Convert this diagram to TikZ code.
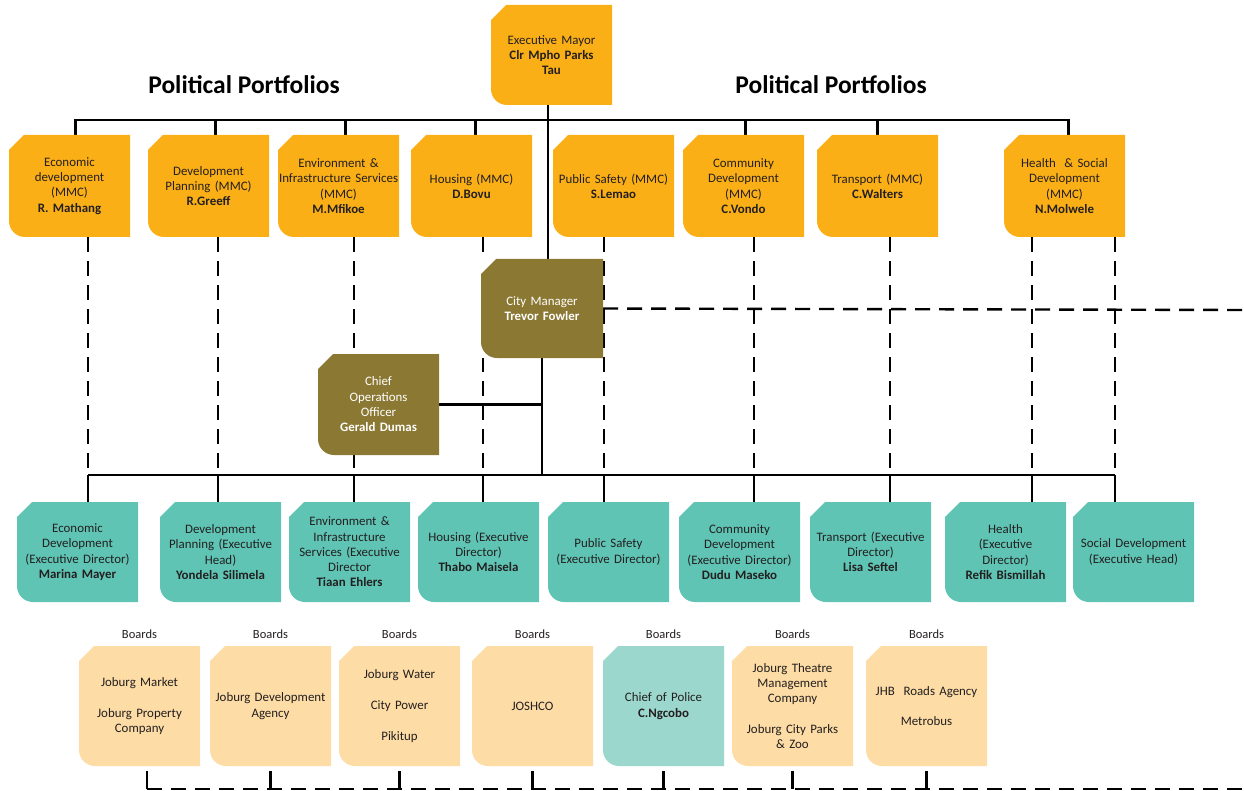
\documentclass[tikz,border=0pt]{standalone}
\usepackage{fontspec}
\setmainfont{Carlito}
\usetikzlibrary{backgrounds}

\definecolor{mayorange}{HTML}{FBAF17}
\definecolor{cmolive}{HTML}{8B7833}
\definecolor{edteal}{HTML}{5FC4B4}
\definecolor{boardpeach}{HTML}{FDDCA5}
\definecolor{policeteal}{HTML}{9BD7CD}
\definecolor{inkgrey}{HTML}{231F20}

\tikzset{orgbox/.style={rectangle, fill=white, inner sep=1pt, minimum width=121pt, minimum height=100pt, text width=119pt, align=center, font=\fontsize{12.9}{15.3}\selectfont, text=inkgrey,
  path picture={\fill[#1] (path picture bounding box.north east) -- ([xshift=15pt]path picture bounding box.north west) -- ([yshift=-15pt]path picture bounding box.north west) -- ([yshift=16pt]path picture bounding box.south west) arc[start angle=180, end angle=270, radius=16pt] -- (path picture bounding box.south east) -- cycle;}}}
\tikzstyle{mayorbox} = [orgbox=mayorange]
\tikzstyle{mmc} = [orgbox=mayorange, minimum height=102pt]
\tikzstyle{manager} = [orgbox=cmolive, text=white]
\tikzstyle{execd} = [orgbox=edteal]
\tikzstyle{board} = [orgbox=boardpeach, minimum height=120pt]
\tikzstyle{policebox} = [orgbox=policeteal, minimum height=120pt]
\tikzstyle{link} = [line width=2.2pt, black]
\tikzstyle{dashlink} = [line width=2.4pt, black, dash pattern=on 15pt off 9pt]
\tikzstyle{heading} = [font=\fontsize{25.5}{30}\selectfont\bfseries, text=black]
\tikzstyle{boardlabel} = [font=\fontsize{12.5}{14}\selectfont, text=inkgrey]

\begin{document}
\begin{tikzpicture}[x=1pt, y=-1pt]
  \useasboundingbox (0,0) rectangle (1244,791);

  \node (headl) [heading] at (244,85) {Political Portfolios};
  \node (headr) [heading] at (831,85) {Political Portfolios};

  % mayor and portfolios
  \node (mayor) [mayorbox] at (551.5,55) {Executive Mayor\\\textbf{Clr Mpho Parks\\Tau}};
  \node (ecomm) [mmc] at (69.5,186) {Economic\\development\\(MMC)\\\textbf{R. Mathang}};
  \node (devmm) [mmc] at (208.5,186) {Development\\Planning (MMC)\\\textbf{R.Greeff}};
  \node (envmm) [mmc] at (338.5,186) {Environment \&\\Infrastructure Services\\(MMC)\\\textbf{M.Mfikoe}};
  \node (housemm) [mmc] at (471.5,186) {Housing (MMC)\\\textbf{D.Bovu}};
  \node (safemm) [mmc] at (613.5,186) {Public Safety (MMC)\\\textbf{S.Lemao}};
  \node (commm) [mmc] at (743.5,186) {Community\\Development\\(MMC)\\\textbf{C.Vondo}};
  \node (transmm) [mmc] at (877.5,186) {Transport (MMC)\\\textbf{C.Walters}};
  \node (healthmm) [mmc] at (1064.5,186) {Health\ \ \& Social\\Development\\(MMC)\\\textbf{N.Molwele}};

  % administration
  \node (cityman) [manager, minimum width=122pt, minimum height=99pt] at (542,308.5) {City Manager\\\textbf{Trevor Fowler}};
  \node (coo) [manager, minimum height=101pt] at (378.5,404.5) {Chief\\Operations\\Officer\\\textbf{Gerald Dumas}};

  % executive directors
  \node (ecoed) [execd] at (77.5,552) {Economic\\Development\\(Executive Director)\\\textbf{Marina Mayer}};
  \node (deved) [execd] at (220.5,552) {Development\\Planning (Executive\\Head)\\\textbf{Yondela Silimela}};
  \node (enved) [execd] at (349.5,552) {Environment \&\\Infrastructure\\Services (Executive\\Director\\\textbf{Tiaan Ehlers}};
  \node (houseed) [execd] at (478.5,552) {Housing (Executive\\Director)\\\textbf{Thabo Maisela}};
  \node (safeed) [execd] at (608.5,552) {Public Safety\\(Executive Director)};
  \node (commed) [execd] at (739.5,552) {Community\\Development\\(Executive Director)\\\textbf{Dudu Maseko}};
  \node (transed) [execd] at (870.5,552) {Transport (Executive\\Director)\\\textbf{Lisa Seftel}};
  \node (healthed) [execd] at (1005.5,552) {Health\\(Executive\\Director)\\\textbf{Refik Bismillah}};
  \node (socialed) [execd] at (1133.5,552) {Social Development\\(Executive Head)};

  % boards
  \node (jmarket) [board] at (139.5,706) {Joburg Market\\[15.3pt]Joburg Property\\Company};
  \node (jda) [board] at (270.5,706) {Joburg Development\\Agency};
  \node (water) [board] at (399.5,706) {Joburg Water\\[15.3pt]City Power\\[15.3pt]Pikitup};
  \node (joshco) [board] at (532.5,706) {JOSHCO};
  \node (police) [policebox] at (663.5,706) {Chief of Police\\\textbf{C.Ngcobo}};
  \node (theatre) [board] at (792.5,706) {Joburg Theatre\\Management\\Company\\[15.3pt]Joburg City Parks\\\& Zoo};
  \node (roads) [board] at (926.5,706) {JHB\ \ Roads Agency\\[15.3pt]Metrobus};
  \foreach \b in {jmarket, jda, water, joshco, police, theatre, roads}
    \node (\b-lab) [boardlabel] at ([yshift=12pt]\b.north) {Boards};

  \begin{scope}[on background layer]
    % portfolio bus
    \draw [link] ([xshift=6pt]ecomm.north) -- ++(0,-15) -| ([xshift=4pt]healthmm.north);
    \foreach \n/\s in {devmm/7, envmm/7, housemm/4, commm/2, transmm/0}
      \draw [link] ([xshift=\s pt]\n.north) -- ++(0,-15);
    \path ([xshift=-3.5pt]mayor.south) coordinate (mfoot);
    \draw [link] (mfoot) -- (mfoot |- cityman.north);

    % portfolio to director
    \foreach \n/\x in {j1/88, j2/218, j3/354, j4/483, j5/604, j6/754, j7/890, j8/1032, j9/1115}
      \coordinate (\n) at (\x,475);
    \foreach \a/\j/\b in {ecomm/j1/ecoed, devmm/j2/deved, envmm/j3/enved, housemm/j4/houseed, safemm/j5/safeed, commm/j6/commed, transmm/j7/transed, healthmm/j8/healthed, healthmm/j9/socialed} {
      \draw [dashlink] (\a.south -| \j) -- (\j);
      \draw [link] (\j) -- (\j |- \b.north);
    }
    \draw [link] (j1) -- (j9);
    \draw [link] (cityman.south) -- (cityman.south |- j1);
    \draw [link] (coo.east) -- (coo.east -| cityman.south);
    \coordinate (cmout) at (1244,310);
    \draw [dashlink] (cityman.east) -- (cmout);

    % boards line
    \coordinate (bend) at (1244,789);
    \path ([xshift=7.5pt]jmarket.south) coordinate (bfirst);
    \draw [link] ([yshift=-5pt]bfirst) -- (bfirst |- bend);
    \foreach \b in {jda, water, joshco, police, theatre, roads}
      \draw [link] ([yshift=-5pt]\b.south) -- (\b.south |- bend);
    \draw [dashlink] (bfirst |- bend) -- (bend);
  \end{scope}
\end{tikzpicture}
\end{document}
